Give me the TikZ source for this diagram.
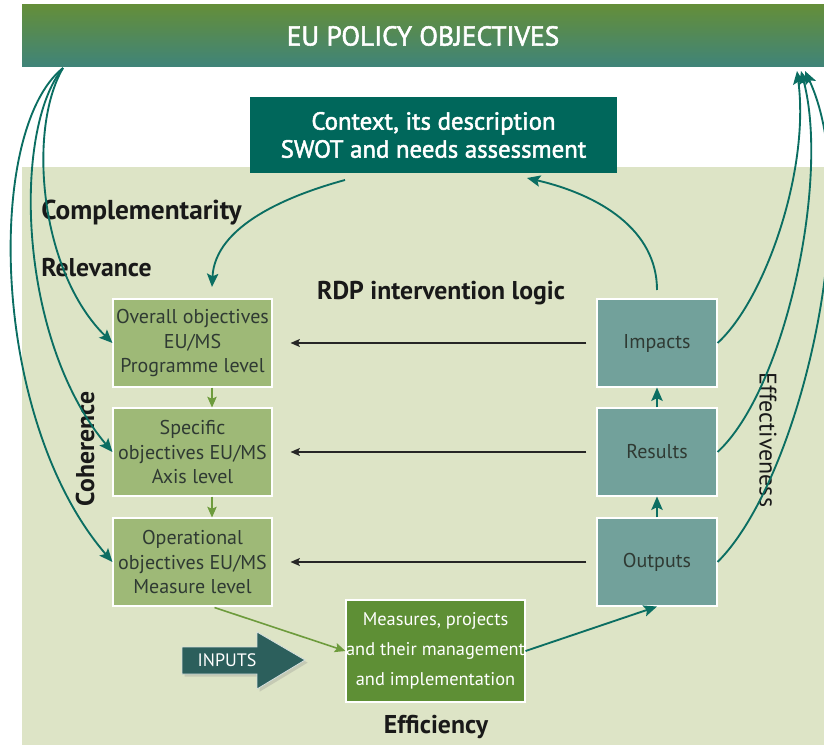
\documentclass[tikz,border=0pt]{standalone}
\usepackage{fontspec}
\setmainfont{PT Sans}
\newfontfamily\semifont[FakeBold=2]{PT Sans}
\usetikzlibrary{arrows.meta,shadows,calc}
\definecolor{panelc}{HTML}{DDE4C6}
\definecolor{bantop}{HTML}{648E3A}
\definecolor{banbot}{HTML}{3F8479}
\definecolor{ctxc}{HTML}{00675B}
\definecolor{lboxc}{HTML}{9EB977}
\definecolor{rboxc}{HTML}{72A19B}
\definecolor{msc}{HTML}{5E8F35}
\definecolor{inpc}{HTML}{2C5F5C}
\definecolor{tealc}{HTML}{0B6E62}
\definecolor{greenc}{HTML}{6D9B3C}
\definecolor{txtc}{HTML}{2F3A33}
\newcommand\bxfont{\fontsize{15}{18.4}\selectfont}
\newcommand\lblfont{\fontsize{19.3}{22}\selectfont}
\tikzset{
  lbox/.style={draw=white, line width=0.8pt, fill=lboxc, text=txtc, align=center,
    minimum width=119.25pt, minimum height=66pt, inner sep=0pt, font=\bxfont},
  rbox/.style={draw=white, line width=0.8pt, fill=rboxc, text=txtc, align=center,
    minimum width=90pt, minimum height=66pt, inner sep=0pt, font=\bxfont},
  tealarr/.style={draw=tealc, line width=1.4pt, -{Stealth[length=10pt,width=8.5pt,inset=2pt]}},
  greenarr/.style={draw=greenc, line width=1.2pt, -{Stealth[length=8pt,width=7pt,inset=1.5pt]}},
  blackarr/.style={draw=black!85, line width=0.9pt, -{Stealth[length=7pt,width=6pt,inset=1.5pt]}},
  lbl/.style={text=black!90, font=\lblfont\bfseries, inner sep=0pt}
}
\begin{document}
\begin{tikzpicture}[x=0.75pt,y=-0.75pt]
\useasboundingbox (0,0) rectangle (824,745);
\fill[white] (0,0) rectangle (824,745);
\fill[panelc] (22,167) rectangle (824,745);

% banner and context
\node[top color=bantop, bottom color=banbot, minimum width=601.5pt, minimum height=46.5pt,
  inner sep=0pt, text=white, font=\semifont\fontsize{20.5}{22}\selectfont] (eu) at (423,36) {EU POLICY OBJECTIVES};
\node[fill=ctxc, minimum width=275.25pt, minimum height=57pt, inner sep=0pt, text=white,
  align=center, font=\semifont\fontsize{18.6}{21}\selectfont] (ctx) at (433.5,135)
  {Context, its description\\SWOT and needs assessment};

% left boxes
\node[lbox] (ov) at (192.5,343) {Overall objectives\\EU/MS\\Programme level};
\node[lbox] (sp) at (192.5,452) {Specific\\objectives EU/MS\\Axis level};
\node[lbox] (op) at (192.5,562) {Operational\\objectives EU/MS\\Measure level};

% right boxes
\node[rbox] (im) at (657,343) {Impacts};
\node[rbox] (re) at (657,452) {Results};
\node[rbox] (ou) at (657,562) {Outputs};

% measures box
\node[draw=white, line width=0.8pt, fill=msc, minimum width=134.25pt, minimum height=76.5pt,
  inner sep=0pt, text=white, align=center, font=\fontsize{13.8}{22.5}\selectfont] (ms) at (435.5,651)
  {Measures, projects\\and their management\\and implementation};

% inputs arrow
\path[fill=inpc, draw=white!80!inpc, line width=0.6pt, drop shadow={opacity=0.25, shadow xshift=2pt, shadow yshift=-2pt}]
  (182,647) -- (257,647) -- (257,632) -- (305,660) -- (257,689) -- (257,674) -- (182,674) -- cycle;
\node[text=white, font=\fontsize{13.5}{15}\selectfont, inner sep=0pt] (inp) at (227,660.5) {INPUTS};

% labels
\node[lbl, anchor=west, font=\fontsize{20.5}{22}\selectfont\bfseries] (compl) at (41,213) {Complementarity};
\node[lbl, anchor=west] (relev) at (41,268) {Relevance};
\node[lbl] (rdp) at (441,293) {RDP intervention logic};
\node[lbl] (effi) at (436,727) {Efficiency};
\node[lbl, rotate=90] (coh) at (85,449) {Coherence};
\node[text=black!90, font=\fontsize{18}{21}\selectfont, inner sep=0pt, rotate=-90] (effe) at (768,440) {Effectiveness};

% coordinates for free ends
\coordinate (l1) at (63,68);
\coordinate (c1) at (345,180);
\coordinate (ovtop) at (212,287);
\coordinate (imtop) at (657,290);
\coordinate (ctxin) at (527,178);
\coordinate (r1) at (797,71);
\coordinate (r2) at (801,71);
\coordinate (r3) at (805,71);

% left arcs
\draw[tealarr] (l1) .. controls (27,130) and (40,272) .. (ov.west);
\draw[tealarr] (l1) .. controls (12,130) and (18,340) .. (sp.west);
\draw[tealarr] (l1) .. controls (-15,130) and (-10,420) .. (op.west);

% right arcs
\draw[tealarr] (im.east) .. controls (765,300) and (810,170) .. (r1);
\draw[tealarr] (re.east) .. controls (785,390) and (830,180) .. (r2);
\draw[tealarr] (ou.east) .. controls (800,480) and (865,200) .. (r3);

% context loops
\draw[tealarr] (c1) .. controls (290,195) and (215,225) .. (ovtop);
\draw[tealarr] (imtop) .. controls (657,230) and (600,195) .. (ctxin);

% vertical arrows
\draw[greenarr] ($(ov.south)+(19.5,0)$) -- ($(sp.north)+(19.5,0)$);
\draw[greenarr] ($(sp.south)+(19.5,0)$) -- ($(op.north)+(19.5,0)$);
\draw[tealarr] (re.north) -- (im.south);
\draw[tealarr] (ou.north) -- (re.south);

% horizontal arrows
\draw[blackarr] ($(im.west)+(-10,0)$) -- ($(ov.east)+(18,0)$);
\draw[blackarr] ($(re.west)+(-10,0)$) -- ($(sp.east)+(18,0)$);
\draw[blackarr] ($(ou.west)+(-10,0)$) -- ($(op.east)+(18,0)$);

% bottom arrows
\draw[greenarr] ($(op.south)+(22,1)$) -- (ms.west);
\draw[tealarr] (ms.east) -- (ou.south);
\end{tikzpicture}
\end{document}
